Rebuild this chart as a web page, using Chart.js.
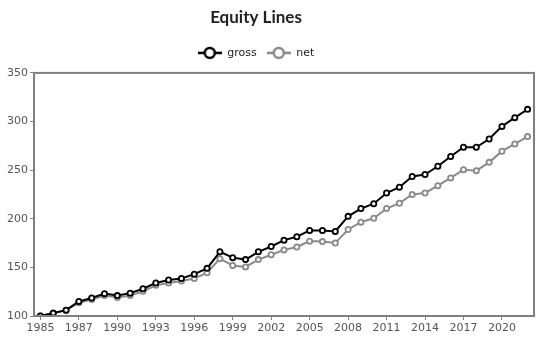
<!DOCTYPE html>
<html>
<head>
<meta charset="utf-8">
<script src="https://cdn.jsdelivr.net/npm/chart.js@4/dist/chart.umd.min.js"></script>
<style>
  html, body { margin: 0; padding: 0; background: #fff; }
  #wrap { width: 551px; height: 357px; }
</style>
</head>
<body>
<div id="wrap"><canvas id="c" width="551" height="357"></canvas></div>
<script>
// Period labels (one per point); every third one is shown on the axis
const periods = [
  "1985","1985","1986","1987","1988","1989","1990","1991","1992","1993",
  "1994","1995","1996","1997","1998","1999","2000","2001","2002","2003",
  "2004","2005","2006","2007","2008","2009","2010","2011","2012","2013",
  "2014","2015","2016","2017","2018","2019","2020","2020","2021"
];
const grossValues = [
  100, 103, 106, 115, 118.5, 123, 121, 123.5, 128, 134,
  137, 138.5, 143, 149, 166, 160, 158, 166, 171.5, 178,
  181.5, 188, 188, 187, 202.5, 210.5, 215.5, 226.5, 232.5, 243.5,
  245.5, 254, 264, 273.5, 273.5, 282, 295, 304, 312.5
];
const netValues = [
  100, 102.5, 106, 113.5, 117, 121, 119, 121, 125.5, 131.5,
  134, 136, 138.5, 144.5, 159, 152, 150.5, 158, 163, 168,
  171, 177, 176.5, 175, 189, 196.5, 200.5, 210.5, 216, 225,
  226.5, 234, 242, 250.5, 249.5, 258, 269.5, 277, 284.5
];
const seriesNames = ["gross", "net"];
const yTicks = [100, 150, 200, 250, 300, 350];

const GROSS = "#000000";
const NET = "#8a8a8a";
const AXIS = "#808080";

function legendIcon(color) {
  const cv = document.createElement("canvas");
  cv.width = 24; cv.height = 14;
  const g = cv.getContext("2d");
  g.strokeStyle = color; g.lineWidth = 2.5;
  g.beginPath(); g.moveTo(0, 7); g.lineTo(24, 7); g.stroke();
  g.fillStyle = "#fff";
  g.beginPath(); g.arc(12, 7, 5, 0, Math.PI * 2); g.fill(); g.stroke();
  return cv;
}
const icons = [legendIcon(GROSS), legendIcon(NET)];

const frame = {
  id: "frame",
  afterDatasetsDraw(chart) {
    const a = chart.chartArea, ctx = chart.ctx;
    ctx.save();
    ctx.strokeStyle = AXIS; ctx.lineWidth = 2;
    ctx.strokeRect(a.left, a.top, a.right - a.left, a.bottom - a.top);
    ctx.restore();
  }
};

// small empty layout box between the legend and the plot
const spacer = {
  id: "spacer",
  beforeInit(chart) {
    const box = {
      position: "top", weight: 500, fullSize: true, options: {},
      top: 0, left: 0, right: 0, bottom: 0, width: 0, height: 0,
      isHorizontal() { return true; },
      update(maxW) { this.width = maxW; this.height = 4.5; },
      draw() {}
    };
    Chart.layouts.addBox(chart, box);
  }
};

new Chart(document.getElementById("c"), {
  type: "line",
  data: {
    labels: periods,
    datasets: [
      { label: seriesNames[0], data: grossValues, borderColor: GROSS, backgroundColor: "#fff",
        borderWidth: 2, pointRadius: 2.6, pointBorderWidth: 1.8, pointBackgroundColor: "#fff",
        pointBorderColor: GROSS, tension: 0, order: 1 },
      { label: seriesNames[1], data: netValues, borderColor: NET, backgroundColor: "#fff",
        borderWidth: 2, pointRadius: 2.6, pointBorderWidth: 1.8, pointBackgroundColor: "#fff",
        pointBorderColor: NET, tension: 0, order: 2 }
    ]
  },
  options: {
    responsive: false,
    animation: false,
    devicePixelRatio: 1,
    layout: { padding: { left: -22, right: 17, top: 0, bottom: 20 } },
    plugins: {
      title: {
        display: true, text: "Equity Lines", color: "#222",
        font: { family: "Lato", weight: "bold", size: 17 },
        padding: { top: 7, bottom: 10 }
      },
      legend: {
        display: true,
        labels: {
          usePointStyle: true, pointStyleWidth: 24, padding: 10,
          color: "#222", font: { family: "DejaVu Sans", size: 11 },
          generateLabels(chart) {
            return chart.data.datasets.map((d, i) => ({
              text: d.label, pointStyle: icons[i], datasetIndex: i,
              fillStyle: "#fff", strokeStyle: d.borderColor, lineWidth: 0, hidden: false,
              fontColor: "#222"
            }));
          }
        }
      },
      tooltip: { enabled: false }
    },
    scales: {
      x: {
        type: "category",
        offset: true,
        border: { display: true, color: AXIS, width: 2 },
        grid: { display: true, drawOnChartArea: false, drawTicks: true, tickLength: 4, color: AXIS, lineWidth: 1, offset: false },
        ticks: {
          autoSkip: false, maxRotation: 0, padding: 2, color: "#555",
          font: { family: "DejaVu Sans", size: 11 },
          callback(v, i) { return i % 3 === 0 ? periods[i] : null; }
        },
        afterFit(s) { s.height = 21; }
      },
      y: {
        min: yTicks[0], max: yTicks[yTicks.length - 1],
        border: { display: true, color: AXIS, width: 2 },
        grid: { display: true, drawOnChartArea: false, drawTicks: true, tickLength: 4, color: AXIS, lineWidth: 1 },
        afterBuildTicks(s) { s.ticks = yTicks.map(v => ({ value: v })); },
        ticks: { padding: 2, color: "#555", font: { family: "DejaVu Sans", size: 11 } },
        afterFit(s) { s.width = 56; }
      }
    }
  },
  plugins: [frame, spacer]
});
</script>
</body>
</html>
